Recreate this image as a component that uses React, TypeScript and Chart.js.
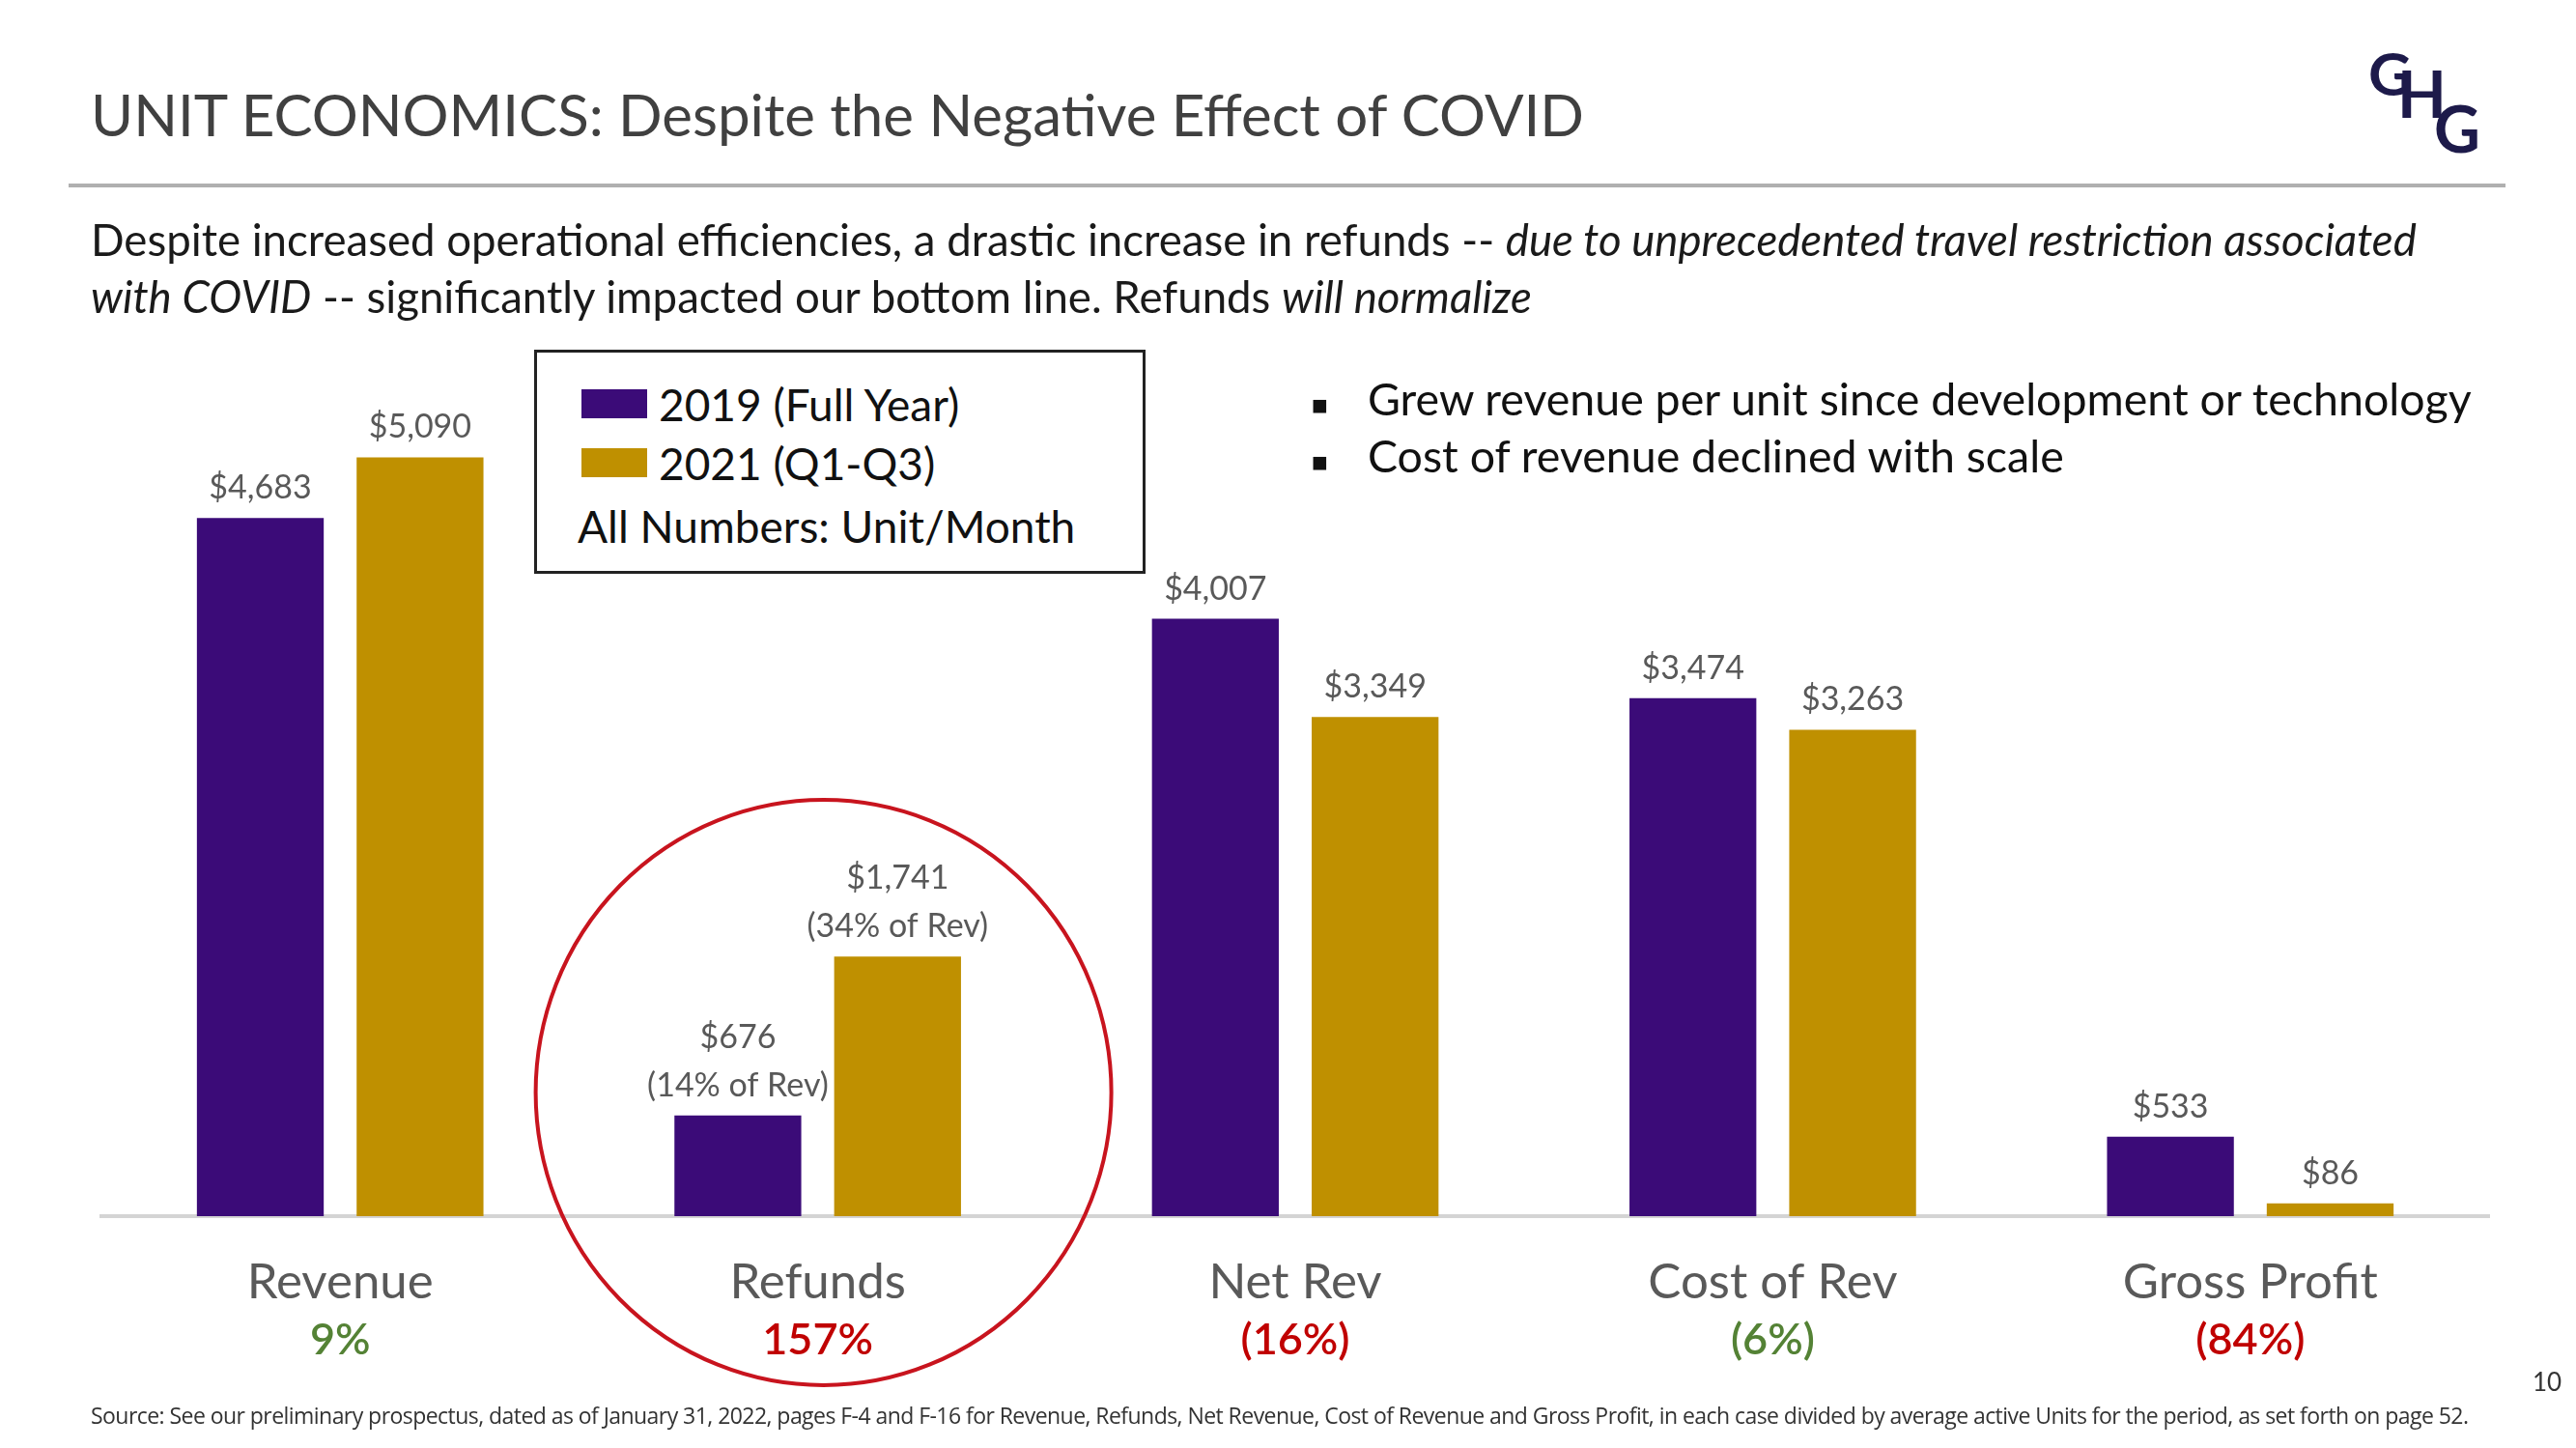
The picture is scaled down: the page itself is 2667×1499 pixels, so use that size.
import React, { useEffect, useRef } from "react";
import { Chart, registerables } from "chart.js";

Chart.register(...registerables);

const categories = ["Revenue", "Refunds", "Net Rev", "Cost of Rev", "Gross Profit"];
const values2019 = [4683, 676, 4007, 3474, 533];
const values2021 = [5090, 1741, 3349, 3263, 86];
const notes2019 = ["", "(14% of Rev)", "", "", ""];
const notes2021 = ["", "(34% of Rev)", "", "", ""];
const changeLabels = ["9%", "157%", "(16%)", "(6%)", "(84%)"];
const changeGood = [true, false, false, true, false];
const seriesNames = ["2019 (Full Year)", "2021 (Q1-Q3)"];

const PURPLE = "#3b0b78";
const GOLD = "#bf9000";
const GREEN = "#548235";
const RED = "#c00000";
const FONT = "Lato, 'Open Sans', sans-serif";

const fmt = (v: number) => "$" + v.toLocaleString("en-US");

const overlayPlugin = {
  id: "overlay",
  afterDraw(chart: any) {
    const ctx = chart.ctx;
    const area = chart.chartArea;
    const xs = chart.scales.x;
    ctx.save();
    // value labels
    ctx.textAlign = "center";
    ctx.textBaseline = "bottom";
    ctx.fillStyle = "#595959";
    ctx.font = `34px ${FONT}`;
    chart.data.datasets.forEach((ds: any, di: number) => {
      const meta = chart.getDatasetMeta(di);
      const notes = di === 0 ? notes2019 : notes2021;
      meta.data.forEach((bar: any, i: number) => {
        const lines = [fmt(ds.data[i])];
        if (notes[i]) lines.push(notes[i]);
        let y = bar.y - 14;
        for (let k = lines.length - 1; k >= 0; k--) {
          ctx.fillText(lines[k], bar.x, y);
          y -= 50;
        }
      });
    });
    // change percentages
    ctx.textBaseline = "middle";
    ctx.font = `600 45px ${FONT}`;
    changeLabels.forEach((t, i) => {
      ctx.fillStyle = changeGood[i] ? GREEN : RED;
      ctx.fillText(t, xs.getPixelForValue(i), area.bottom + 128);
    });
    // red highlight circle around Refunds
    ctx.strokeStyle = "#c8141e";
    ctx.lineWidth = 4;
    ctx.beginPath();
    ctx.ellipse(xs.getPixelForValue(1) + 6, area.bottom - 128, 298, 303, 0, 0, Math.PI * 2);
    ctx.stroke();
    ctx.restore();
  },
};

function BarChart() {
  const ref = useRef<HTMLCanvasElement | null>(null);
  useEffect(() => {
    if (!ref.current) return;
    const chart = new Chart(ref.current, {
      type: "bar",
      data: {
        labels: categories,
        datasets: [
          { label: seriesNames[0], data: values2019, backgroundColor: PURPLE, categoryPercentage: 0.669, barPercentage: 0.794 },
          { label: seriesNames[1], data: values2021, backgroundColor: GOLD, categoryPercentage: 0.669, barPercentage: 0.794 },
        ],
      },
      options: {
        responsive: false,
        animation: false,
        maintainAspectRatio: false,
        layout: { padding: { left: 105, right: 90, top: 333, bottom: 0 } },
        plugins: { legend: { display: false }, tooltip: { enabled: false } },
        scales: {
          y: { display: false, min: 0, max: 6000 },
          x: {
            grid: { display: false, drawTicks: false },
            border: { display: true, color: "#d4d4d4", width: 4 },
            ticks: { color: "#595959", font: { family: FONT, size: 51 }, padding: 38, maxRotation: 0 },
            afterFit: (s: any) => {
              s.height = 240;
            },
          },
        },
      },
      plugins: [overlayPlugin],
    });
    return () => chart.destroy();
  }, []);
  return <canvas ref={ref} width={2667} height={1499} style={{ position: "absolute", left: 0, top: 0 }} />;
}

export default function App() {
  useEffect(() => {
    document.body.style.margin = "0";
  }, []);
  const abs: React.CSSProperties = { position: "absolute", whiteSpace: "nowrap", fontFamily: FONT };
  return (
    <div style={{ position: "relative", width: 2667, height: 1499, background: "#fff", overflow: "hidden" }}>
      <BarChart />
      <div style={{ ...abs, left: 94, top: 79, fontSize: 60, color: "#404040", lineHeight: "78px" }}>
        UNIT ECONOMICS: Despite the Negative Effect of COVID
      </div>
      <div style={{ position: "absolute", left: 71, top: 190, width: 2523, height: 4, background: "#b0b0b0" }} />
      <div style={{ ...abs, left: 2452, top: 40, width: 130, height: 130, color: "#1d1a4a", fontWeight: 700 }}>
        <span style={{ position: "absolute", left: 0, top: 0, fontSize: 62, lineHeight: "70px" }}>G</span>
        <span style={{ position: "absolute", left: 30, top: 22, fontSize: 66, lineHeight: "70px" }}>H</span>
        <span style={{ position: "absolute", left: 68, top: 58, fontSize: 66, lineHeight: "70px" }}>G</span>
      </div>
      <div style={{ ...abs, left: 94, top: 218, fontSize: 45.6, color: "#1a1a1a", lineHeight: "59px" }}>
        Despite increased operational efficiencies, a drastic increase in refunds -- <i>due to unprecedented travel restriction associated</i>
        <br />
        <i>with COVID</i> -- significantly impacted our bottom line. Refunds <i>will normalize</i>
      </div>
      <div
        style={{
          position: "absolute",
          left: 553,
          top: 362,
          width: 627,
          height: 226,
          border: "3px solid #222",
          background: "#fff",
          fontFamily: FONT,
          color: "#111",
        }}
      >
        {seriesNames.map((n, i) => (
          <div key={n} style={{ position: "absolute", left: 46, top: 25 + i * 61, height: 56, display: "flex", alignItems: "center", whiteSpace: "nowrap" }}>
            <span style={{ display: "inline-block", width: 68, height: 30, background: i === 0 ? PURPLE : GOLD, marginRight: 12 }} />
            <span style={{ fontSize: 46 }}>{n}</span>
          </div>
        ))}
        <div style={{ position: "absolute", left: 42, top: 152, fontSize: 46, lineHeight: "56px", whiteSpace: "nowrap" }}>All Numbers: Unit/Month</div>
      </div>
      <div style={{ ...abs, left: 1358, top: 383, fontSize: 46.5, color: "#111", lineHeight: "59px" }}>
        <div style={{ height: 59 }}>
          <span style={{ display: "inline-block", width: 58, fontSize: 28, verticalAlign: "middle" }}>■</span>Grew revenue per unit since development or technology
        </div>
        <div style={{ height: 59 }}>
          <span style={{ display: "inline-block", width: 58, fontSize: 28, verticalAlign: "middle" }}>■</span>Cost of revenue declined with scale
        </div>
      </div>
      <div style={{ ...abs, left: 94, top: 1449, fontSize: 23, color: "#333", fontFamily: "'Open Sans', sans-serif", letterSpacing: -0.55 }}>
        Source: See our preliminary prospectus, dated as of January 31, 2022, pages F-4 and F-16 for Revenue, Refunds, Net Revenue, Cost of Revenue and Gross Profit, in each case divided by average active Units for the period, as set forth on page 52.
      </div>
      <div style={{ ...abs, left: 2622, top: 1414, fontSize: 26, color: "#333" }}>10</div>
    </div>
  );
}
